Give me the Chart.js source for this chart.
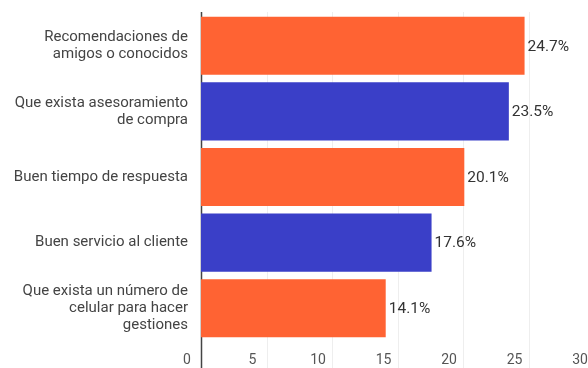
<!DOCTYPE html>
<html>
<head>
<meta charset="utf-8">
<script src="https://cdn.jsdelivr.net/npm/chart.js@4"></script>
<style>
  html, body { margin: 0; padding: 0; background: #fff; overflow: hidden; }
  #wrap { width: 600px; height: 368px; }
</style>
</head>
<body>
<div id="wrap"><canvas id="bars"></canvas></div>
<script>
const categories = [
  ['Recomendaciones de', 'amigos o conocidos'],
  ['Que exista asesoramiento', 'de compra'],
  ['Buen tiempo de respuesta'],
  ['Buen servicio al cliente'],
  ['Que exista un número de', 'celular para hacer', 'gestiones']
];
const percents   = [24.7, 23.5, 20.1, 17.6, 14.1];
const barColors  = ['#ff6333', '#3a3fc8', '#ff6333', '#3a3fc8', '#ff6333'];
const xTicks     = [0, 5, 10, 15, 20, 25, 30];

const FONT = 'Roboto, "Noto Sans", sans-serif';
Chart.defaults.font.family = FONT;

// vertical grid + dark zero axis, drawn full height behind the bars
const gridLines = {
  id: 'gridLines',
  beforeDatasetsDraw(chart) {
    const { ctx, scales: { x } } = chart;
    ctx.save();
    xTicks.forEach(v => {
      const px = Math.round(x.getPixelForValue(v)) + 0.5;
      ctx.beginPath();
      ctx.strokeStyle = v === 0 ? '#444' : '#eeeeee';
      ctx.lineWidth = v === 0 ? 1.5 : 1;
      ctx.moveTo(px, 12);
      ctx.lineTo(px, chart.height);
      ctx.stroke();
    });
    ctx.restore();
  }
};

// "24.7%" style labels at the end of each bar
const valueLabels = {
  id: 'valueLabels',
  afterDatasetsDraw(chart) {
    const { ctx } = chart;
    const meta = chart.getDatasetMeta(0);
    ctx.save();
    ctx.font = '15.5px ' + FONT;
    ctx.fillStyle = '#333';
    ctx.textAlign = 'left';
    ctx.textBaseline = 'middle';
    meta.data.forEach((bar, i) => {
      ctx.fillText(percents[i].toFixed(1) + '%', bar.x + 3, bar.y + 1);
    });
    ctx.restore();
  }
};

new Chart(document.getElementById('bars'), {
  type: 'bar',
  data: {
    labels: categories,
    datasets: [{
      data: percents,
      backgroundColor: barColors,
      borderWidth: 0,
      barPercentage: 0.885,
      categoryPercentage: 1
    }]
  },
  options: {
    indexAxis: 'y',
    responsive: true,
    maintainAspectRatio: false,
    animation: false,
    layout: { padding: { top: 13, right: 6, left: 0, bottom: 0 } },
    plugins: { legend: { display: false }, tooltip: { enabled: false } },
    scales: {
      x: {
        min: 0, max: 30,
        afterFit: s => { s.height = 27; s.paddingLeft = 0; s.paddingRight = 0; },
        grid: { display: false },
        border: { display: false },
        ticks: { stepSize: 5, color: '#555', padding: 3, labelOffset: -14, font: { size: 14 } }
      },
      y: {
        afterFit: s => { s.width = 201; s.paddingTop = 0; s.paddingBottom = 0; },
        grid: { display: false, drawTicks: false },
        border: { display: false },
        ticks: { color: '#444', padding: 13, font: { size: 15, lineHeight: '17px' } }
      }
    }
  },
  plugins: [gridLines, valueLabels]
});
</script>
</body>
</html>
